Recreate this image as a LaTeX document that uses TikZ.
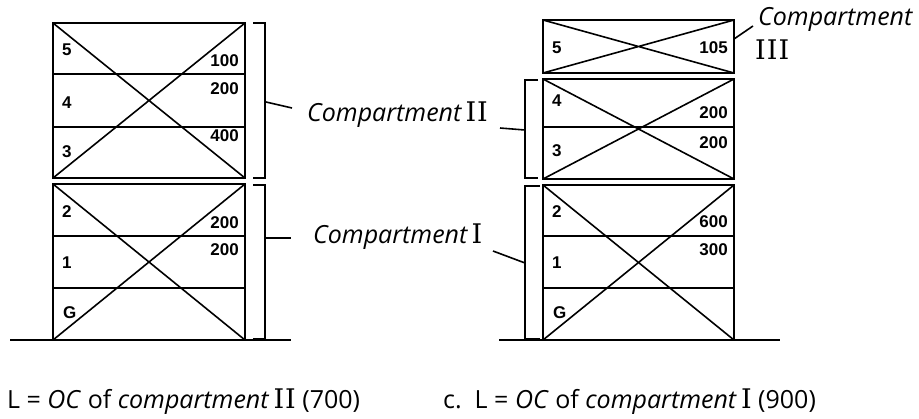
\documentclass[tikz,border=0pt]{standalone}
\usepackage{fontspec}
\setmainfont{Open Sans}
\newfontfamily\rom[LetterSpace=4]{DejaVu Serif}
\newfontfamily\hel{Liberation Sans}
\begin{document}
\begin{tikzpicture}[x=1pt,y=-1pt,
  wall/.style={line width=2.2pt},
  floorline/.style={line width=1.6pt},
  diag/.style={line width=1.6pt},
  brk/.style={line width=1.6pt},
  ground/.style={line width=2.2pt},
  lbl/.style={font=\hel\bfseries\fontsize{17}{17}\selectfont, inner sep=0pt},
  lblL/.style={lbl, anchor=west},
  lblR/.style={lbl, anchor=east},
  comp/.style={font=\fontsize{25}{25}\selectfont, inner sep=0pt, anchor=base west},
  capt/.style={font=\fontsize{25}{25}\selectfont, inner sep=0pt, anchor=base west}]
\useasboundingbox (0,0) rectangle (919,418);
\fill[white] (0,0) rectangle (919,418);
\newcommand\romn[1]{{\rom\upshape\fontsize{27}{27}\selectfont #1}}
% ---------- left building ----------
\coordinate (a1) at (53,23); \coordinate (a2) at (245,178);
\coordinate (b1) at (53,184); \coordinate (b2) at (245,340);
\draw[diag] (a1) -- (a2) (a1 |- a2) -- (a2 |- a1);
\draw[diag] (b1) -- (b2) (b1 |- b2) -- (b2 |- b1);
\draw[floorline] (53,74) -- (245,74) (53,127) -- (245,127)
  (53,236) -- (245,236) (53,288) -- (245,288);
\draw[wall] (a1) rectangle (a2) (b1) rectangle (b2);
\coordinate (g1) at (10,340); \coordinate (g2) at (291,340);
\draw[ground] (g1) -- (g2);
% brackets
\draw[brk] (253,23) -- (265,23) -- (265,178) -- (253,178);
\draw[brk] (253,185) -- (265,185) -- (265,339) -- (253,339);
\coordinate (tA1) at (266,102); \coordinate (tA2) at (292,108);
\coordinate (tB1) at (266,238); \coordinate (tB2) at (291,238);
\draw[brk] (tA1) -- (tA2);
\draw[brk] (tB1) -- (tB2);
\node[comp] (cIIa) at (307,121) {\itshape Compartment\,\romn{II}};
\node[comp] (cIa) at (313,243) {\itshape Compartment\,\romn{I}};
% floor labels
\node[lblL] (l5) at (62,50) {5};
\node[lblL] (l4) at (62,103) {4};
\node[lblL] (l3) at (62,152) {3};
\node[lblL] (l2) at (62,212) {2};
\node[lblL] (l1) at (62,263) {1};
\node[lblL] (lG) at (63,313) {G};
\node[lblR] (n1) at (239,61) {100};
\node[lblR] (n2) at (239,89) {200};
\node[lblR] (n3) at (239,136) {400};
\node[lblR] (n4) at (239,223) {200};
\node[lblR] (n5) at (239,250) {200};
% ---------- right building ----------
\coordinate (c1) at (543,20); \coordinate (c2) at (734,73);
\coordinate (d1) at (543,79); \coordinate (d2) at (734,179);
\coordinate (e1) at (543,185); \coordinate (e2) at (734,340);
\draw[diag] (c1) -- (c2) (c1 |- c2) -- (c2 |- c1);
\draw[diag] (d1) -- (d2) (d1 |- d2) -- (d2 |- d1);
\draw[diag] (e1) -- (e2) (e1 |- e2) -- (e2 |- e1);
\draw[floorline] (543,127) -- (734,127) (543,236) -- (734,236) (543,288) -- (734,288);
\draw[wall] (c1) rectangle (c2) (d1) rectangle (d2) (e1) rectangle (e2);
\coordinate (h1) at (499,340); \coordinate (h2) at (780,340);
\draw[ground] (h1) -- (h2);
\draw[brk] (538,80) -- (525,80) -- (525,178) -- (538,178);
\draw[brk] (540,186) -- (525,186) -- (525,339) -- (540,339);
\coordinate (tC1) at (500,128); \coordinate (tC2) at (525,130);
\coordinate (tD1) at (493,251); \coordinate (tD2) at (525,263);
\coordinate (tE1) at (734,39); \coordinate (tE2) at (753,26);
\draw[brk] (tC1) -- (tC2);
\draw[brk] (tD1) -- (tD2);
\draw[brk] (tE1) -- (tE2);
\node[comp] (cIIIa) at (758,25) {\itshape Compartment};
\node[comp] (cIIIb) at (755,59) {\romn{III}};
\node[lblL] (r5) at (552,48) {5};
\node[lblL] (r4) at (552,101) {4};
\node[lblL] (r3) at (552,151) {3};
\node[lblL] (r2) at (552,212) {2};
\node[lblL] (r1) at (552,263) {1};
\node[lblL] (rG) at (553,313) {G};
\node[lblR] (m1) at (728,48) {105};
\node[lblR] (m2) at (728,113) {200};
\node[lblR] (m3) at (728,143) {200};
\node[lblR] (m4) at (728,222) {600};
\node[lblR] (m5) at (728,250) {300};
% ---------- captions ----------
\node[capt] (capL) at (7,408) {L = \textit{OC} of \textit{compartment}\,\romn{II} (700)};
\node[capt] (capR) at (443,408) {c.\ \ L = \textit{OC} of \textit{compartment}\,\romn{I} (900)};
\end{tikzpicture}
\end{document}
